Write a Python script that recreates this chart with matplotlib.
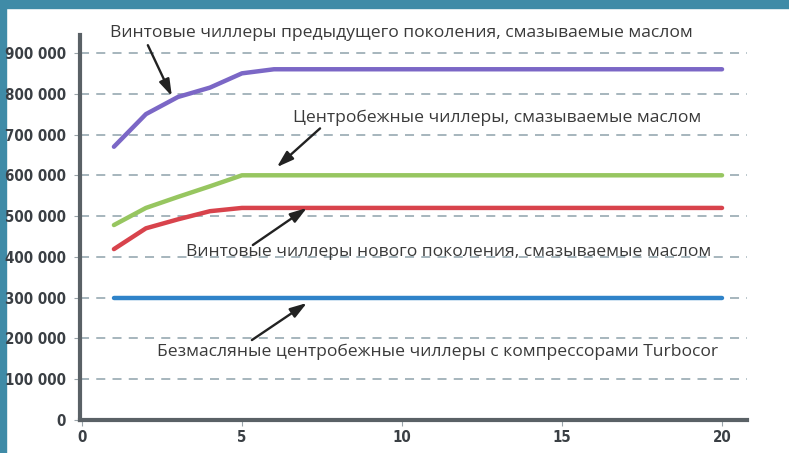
import matplotlib
matplotlib.use("Agg")
import matplotlib.pyplot as plt
from matplotlib.patches import Rectangle
from matplotlib.ticker import FuncFormatter

years = list(range(1, 21))
screw_old = [670000, 750000, 792000, 815000, 850000] + [860000] * 15
centrifugal = [478000, 520000, 547000, 573000, 600000] + [600000] * 15
screw_new = [419000, 470000, 492000, 512000, 520000] + [520000] * 15
turbocor = [300000] * 20

labels = [
    "Винтовые чиллеры предыдущего поколения, смазываемые маслом",
    "Центробежные чиллеры, смазываемые маслом",
    "Винтовые чиллеры нового поколения, смазываемые маслом",
    "Безмасляные центробежные чиллеры с компрессорами Turbocor",
]
x_ticks = [0, 5, 10, 15, 20]
y_ticks = [0, 100000, 200000, 300000, 400000, 500000, 600000, 700000, 800000, 900000]

fig = plt.figure(figsize=(7.89, 4.53), dpi=100)
fig.patch.set_facecolor("white")
teal = "#3f8ba7"
fig.patches.append(Rectangle((0, 1 - 8 / 453), 1, 8 / 453, transform=fig.transFigure, color=teal, zorder=-1))
fig.patches.append(Rectangle((0, 0), 6 / 789, 1, transform=fig.transFigure, color=teal, zorder=-1))

ax = fig.add_axes([80 / 789, 1 - 420 / 453, (747 - 80) / 789, (420 - 35) / 453])
ax.set_xlim(-0.06, 20.78)
ax.set_ylim(0, 944000)

ax.set_yticks(y_ticks)
ax.set_xticks(x_ticks)
ax.yaxis.grid(True, linestyle=(0, (5, 4)), color="#9fb0b8", linewidth=1.3)
ax.set_axisbelow(True)

lw = 3.2
ax.plot(years, screw_old, color="#7b67c6", lw=lw, solid_capstyle="round")
ax.plot(years, centrifugal, color="#97c660", lw=lw, solid_capstyle="round")
ax.plot(years, screw_new, color="#d8434c", lw=lw, solid_capstyle="round")
ax.plot(years, turbocor, color="#2f83c9", lw=lw, solid_capstyle="round")

for s in ["top", "right"]:
    ax.spines[s].set_visible(False)
for s in ["left", "bottom"]:
    ax.spines[s].set_linewidth(3)
    ax.spines[s].set_color("#5a6166")

ax.yaxis.set_major_formatter(FuncFormatter(lambda v, p: f"{int(v):,}".replace(",", " ")))
for t in ax.get_xticklabels() + ax.get_yticklabels():
    t.set_fontfamily("DejaVu Sans")
    t.set_fontstretch("condensed")
    t.set_fontweight("bold")
    t.set_fontsize(10.8)
    t.set_color("#3a3f44")
ax.tick_params(axis="both", length=4, width=0.8, color="#9aa4aa", pad=3)
ax.tick_params(axis="y", pad=6)

tf = dict(family=["Open Sans", "DejaVu Sans"], fontsize=12.6, color="#3a3a3a", ha="center", va="center")
ap = dict(arrowstyle="-|>,head_length=1.0,head_width=0.32", color="#222222", lw=1.7, shrinkA=0, shrinkB=0)

ax.text(9.97, 948500, labels[0], clip_on=False, **tf)
ax.annotate("", xy=(2.81, 794000), xytext=(2.06, 919000), arrowprops=ap)

ax.text(12.98, 740000, labels[1], **tf)
ax.annotate("", xy=(6.09, 620000), xytext=(7.44, 715000), arrowprops=ap)

ax.text(11.45, 411800, labels[2], **tf)
ax.annotate("", xy=(7.03, 520000), xytext=(5.34, 429000), arrowprops=ap)

ax.text(11.11, 166700, labels[3], **tf)
ax.annotate("", xy=(7.03, 287000), xytext=(5.31, 196000), arrowprops=ap)

fig.savefig("out.png", dpi=100)
